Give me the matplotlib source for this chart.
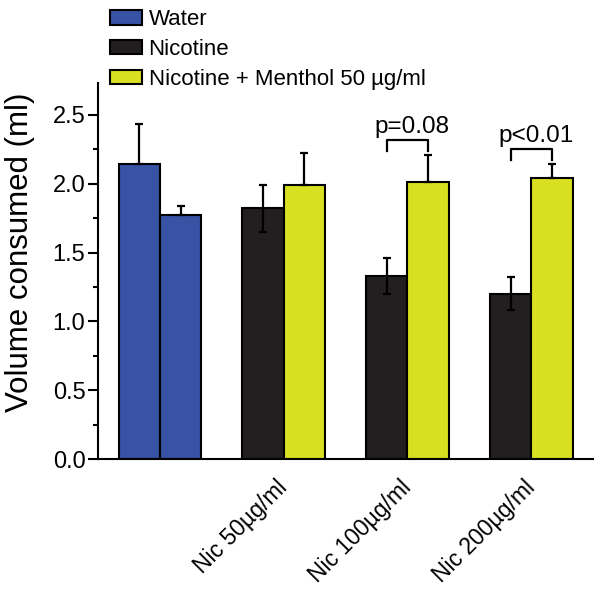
import matplotlib
matplotlib.use('Agg')
import matplotlib.pyplot as plt
import matplotlib.transforms as mtransforms
import numpy as np

# ===== 参数 =====
FONT_SIZE_LABEL = 22.5
FONT_SIZE_TICK = 17
FONT_SIZE_XTICK = 16.5
FONT_SIZE_LEGEND = 16
FONT_SIZE_ANNOT = 17.5

plt.rcParams['font.family'] = ['Liberation Sans', 'DejaVu Sans']

# ===== 数据 =====
group_labels = ['', 'Nic 50µg/ml', 'Nic 100µg/ml', 'Nic 200µg/ml']
water_vals = [2.14, 1.77]
water_err = [0.29, 0.07]
nic_vals = [1.82, 1.33, 1.20]
nic_err = [0.17, 0.13, 0.12]
menthol_vals = [1.99, 2.01, 2.04]
menthol_err = [0.23, 0.20, 0.10]
p_labels = ['p=0.08', 'p<0.01']
p_groups = [2, 3]

colors = {
    'Water': '#3852a4',
    'Nicotine': '#231f20',
    'Menthol': '#d9e021',
}

fig = plt.figure(figsize=(6.01, 5.94), dpi=100)
ax = fig.add_axes([0.163, 0.227, 0.824, 0.633])

w = 1 / 3
x = np.arange(len(group_labels))
bar_kw = dict(width=w, edgecolor='black', linewidth=1.5, zorder=2)
err_kw = dict(fmt='none', ecolor='black', elinewidth=1.6, capsize=2.6, capthick=1.6, zorder=3)

# 水 (两根蓝柱)
water_x = [x[0] - w / 2, x[0] + w / 2]
ax.bar(water_x, water_vals, color=colors['Water'], label='Water', **bar_kw)
ax.errorbar(water_x, water_vals, yerr=[np.zeros(2), water_err], **err_kw)

# 尼古丁
nic_x = x[1:] - w / 2
ax.bar(nic_x, nic_vals, color=colors['Nicotine'], label='Nicotine', **bar_kw)
ax.errorbar(nic_x, nic_vals, yerr=nic_err, **err_kw)

# 尼古丁 + 薄荷醇
men_x = x[1:] + w / 2
ax.bar(men_x, menthol_vals, color=colors['Menthol'],
       label='Nicotine + Menthol 50 µg/ml', **bar_kw)
ax.errorbar(men_x, menthol_vals, yerr=[np.zeros(3), menthol_err], **err_kw)

# 显著性括号
for lab, g in zip(p_labels, p_groups):
    i = g - 1
    top = menthol_vals[i] + menthol_err[i] + 0.11
    x0, x1 = nic_x[i], men_x[i]
    ax.plot([x0, x0, x1, x1], [top - 0.08, top, top, top - 0.08],
            color='black', linewidth=1.6, zorder=3)
    ax.text(g + 0.04, top + 0.015, lab, ha='center', va='bottom',
            fontsize=FONT_SIZE_ANNOT)

# 坐标轴
ax.set_xlim(-0.5, 3.5)
ax.set_ylim(0, 2.73)
ax.set_yticks(np.arange(0, 2.51, 0.5))
ax.set_yticks(np.arange(0.25, 2.6, 0.5), minor=True)
ax.yaxis.set_major_formatter(plt.FormatStrFormatter('%.1f'))
ax.tick_params(axis='y', which='major', length=7, width=1.5,
               labelsize=FONT_SIZE_TICK, pad=2)
ax.tick_params(axis='y', which='minor', length=3.5, width=1.5)
ax.set_ylabel('Volume consumed (ml)', fontsize=FONT_SIZE_LABEL)
ax.yaxis.set_label_coords(-0.128, 0.55)

ax.set_xticks(x)
ax.set_xticklabels(group_labels, rotation=45, ha='right',
                   fontsize=FONT_SIZE_XTICK)
ax.tick_params(axis='x', length=0, pad=12)
offset = mtransforms.ScaledTranslation(8 / 100, 0, fig.dpi_scale_trans)
for lbl in ax.get_xticklabels():
    lbl.set_transform(lbl.get_transform() + offset)

for s in ['top', 'right']:
    ax.spines[s].set_visible(False)
for s in ['left', 'bottom']:
    ax.spines[s].set_linewidth(1.5)

# 图例
fig.legend(loc='upper left', bbox_to_anchor=(0.175, 0.992), frameon=False,
           fontsize=FONT_SIZE_LEGEND, handlelength=1.45, handleheight=0.62,
           handletextpad=0.3, labelspacing=0.4, borderpad=0.2,
           borderaxespad=0)

fig.savefig('out.png', dpi=100, facecolor='white')
